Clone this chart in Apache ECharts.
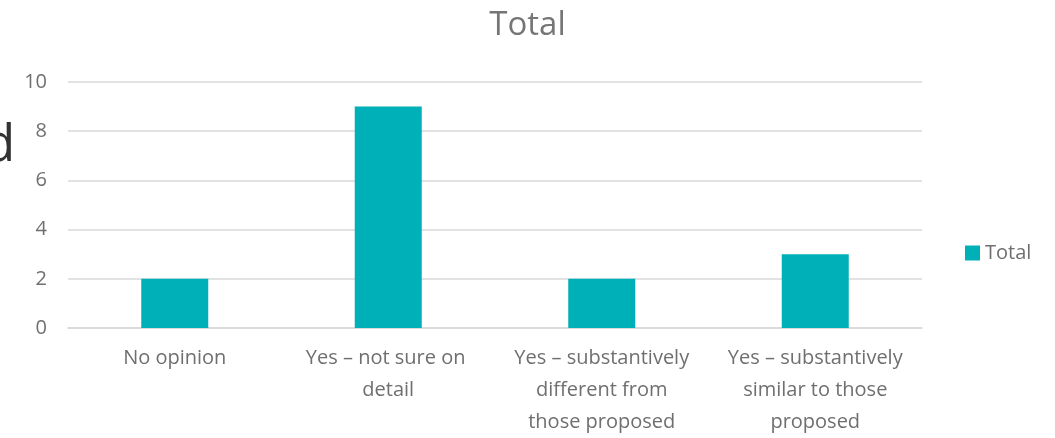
<!DOCTYPE html>
<html><head><meta charset="utf-8">
<script src="https://cdn.jsdelivr.net/npm/echarts@6/dist/echarts.min.js"></script>
<style>html,body{margin:0;padding:0;background:#fff}#c{width:1055px;height:438px}</style>
</head><body><div id="c"></div>
<script>
const categories = ["No opinion", "Yes – not sure on detail", "Yes – substantively different from those proposed", "Yes – substantively similar to those proposed"];
const totalValues = [2, 9, 2, 3];
const seriesName = "Total";
const titleText = "Total";

const chart = echarts.init(document.getElementById('c'));
const FONT = "'Open Sans', sans-serif";
chart.setOption({
  animation: false,
  textStyle: { fontFamily: FONT },
  title: { text: titleText, left: 'center', top: 4, textStyle: { fontSize: 33, fontWeight: 'normal', color: '#767676', fontFamily: FONT } },
  legend: { orient: 'vertical', left: 960, top: 238, itemWidth: 15, itemHeight: 15, itemGap: 6, icon: 'rect',
    textStyle: { fontSize: 20, color: '#6f6f6f', fontFamily: FONT }, data: [seriesName] },
  grid: { left: 68, right: 133, top: 82, bottom: 110, containLabel: false, outerBoundsMode: 'none' },
  xAxis: { type: 'category', data: categories,
    axisLine: { lineStyle: { color: '#d9d9d9', width: 1.5 } }, axisTick: { show: false },
    axisLabel: { interval: 0, width: 186, overflow: 'break', margin: 14, color: '#6f6f6f', fontSize: 20, lineHeight: 32, fontFamily: FONT } },
  yAxis: { type: 'value', min: 0, max: 10, interval: 2,
    axisLine: { show: false }, axisTick: { show: false },
    splitLine: { lineStyle: { color: '#d9d9d9', width: 1.5 } },
    axisLabel: { color: '#6f6f6f', fontSize: 20, margin: 21, fontFamily: FONT } },
  series: [{ name: seriesName, type: 'bar', data: totalValues, barWidth: 67, itemStyle: { color: '#00B0B9' } }],
  graphic: [{ type: 'text', left: -16, top: 121, style: { text: 'd', fontSize: 51, fill: '#333333', fontFamily: FONT } }]
});
</script></body></html>
